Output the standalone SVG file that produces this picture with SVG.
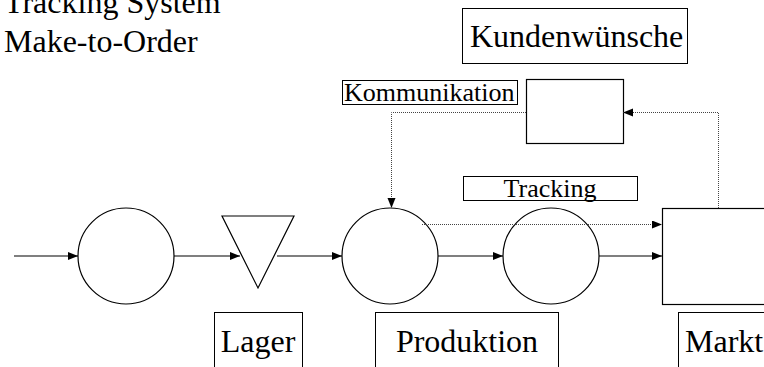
<svg xmlns="http://www.w3.org/2000/svg" width="764" height="367" viewBox="0 0 764 367">
<defs>
<style>
.s{fill:#fff;stroke:#000;stroke-width:1.2}
.b{fill:none;stroke:#000;stroke-width:1}
text{font-family:'Liberation Serif','Times New Roman',Times,serif;fill:#000}
.c{fill:none;stroke:#000;stroke-width:1.2}
.d{fill:none;stroke:#444;stroke-width:1;stroke-dasharray:1 1}
</style>
<marker id="a" markerUnits="userSpaceOnUse" markerWidth="11" markerHeight="9" refX="10" refY="4" orient="auto"><path d="M0,0 L10,4 L0,8 z" fill="#000"/></marker>
</defs>
<g id="titles" font-family="Liberation Serif, serif">
<text x="4" y="13" font-size="32">Tracking System</text>
<text x="4" y="52" font-size="32">Make-to-Order</text>
</g>
<g id="kundenwuensche" font-family="Liberation Serif, serif"><rect class="b" x="462.5" y="8.5" width="225" height="55"/><text x="470" y="47" font-size="32">Kundenwünsche</text></g>
<g id="kommunikation" font-family="Liberation Serif, serif"><rect class="b" x="342.5" y="80.5" width="175" height="24"/><text x="344" y="101" font-size="26">Kommunikation</text></g>
<g id="kunde"><rect class="s" x="526.5" y="79.5" width="97" height="64"/></g>
<g id="tracking" font-family="Liberation Serif, serif"><rect class="b" x="463.5" y="176.5" width="174" height="24"/><text x="550" y="197" font-size="26" text-anchor="middle">Tracking</text></g>
<g id="c1"><circle class="s" cx="126" cy="256" r="48"/></g>
<g id="lager-tri"><polygon class="s" points="222,216 294,216 258,288"/></g>
<g id="c3"><circle class="s" cx="390" cy="256" r="48"/></g>
<g id="c4"><circle class="s" cx="551" cy="256" r="48"/></g>
<g id="markt-box"><rect class="s" x="662.5" y="208.5" width="120" height="96"/></g>
<g id="lager" font-family="Liberation Serif, serif"><rect class="b" x="214.5" y="312.5" width="88" height="70"/><text x="258" y="352" font-size="32" text-anchor="middle">Lager</text></g>
<g id="produktion" font-family="Liberation Serif, serif"><rect class="b" x="375.5" y="312.5" width="183" height="70"/><text x="467" y="352" font-size="32" text-anchor="middle">Produktion</text></g>
<g id="markt" font-family="Liberation Serif, serif"><rect class="b" x="678.5" y="312.5" width="100" height="70"/><text x="685" y="352" font-size="32">Markt</text></g>
<g id="connectors">
<line class="c" x1="14" y1="256" x2="78" y2="256" marker-end="url(#a)"/>
<line class="c" x1="174" y1="256" x2="240" y2="256" marker-end="url(#a)"/>
<line class="c" x1="277" y1="256" x2="342" y2="256" marker-end="url(#a)"/>
<line class="c" x1="438" y1="256" x2="503" y2="256" marker-end="url(#a)"/>
<line class="c" x1="599" y1="256" x2="662" y2="256" marker-end="url(#a)"/>
<line class="d" x1="422" y1="224.5" x2="662" y2="224.5" marker-end="url(#a)"/>
<polyline class="d" points="718.5,208 718.5,112.5 623,112.5" marker-end="url(#a)"/>
<polyline class="d" points="526,112.5 391.5,112.5 391.5,208" marker-end="url(#a)"/>
</g>
</svg>
